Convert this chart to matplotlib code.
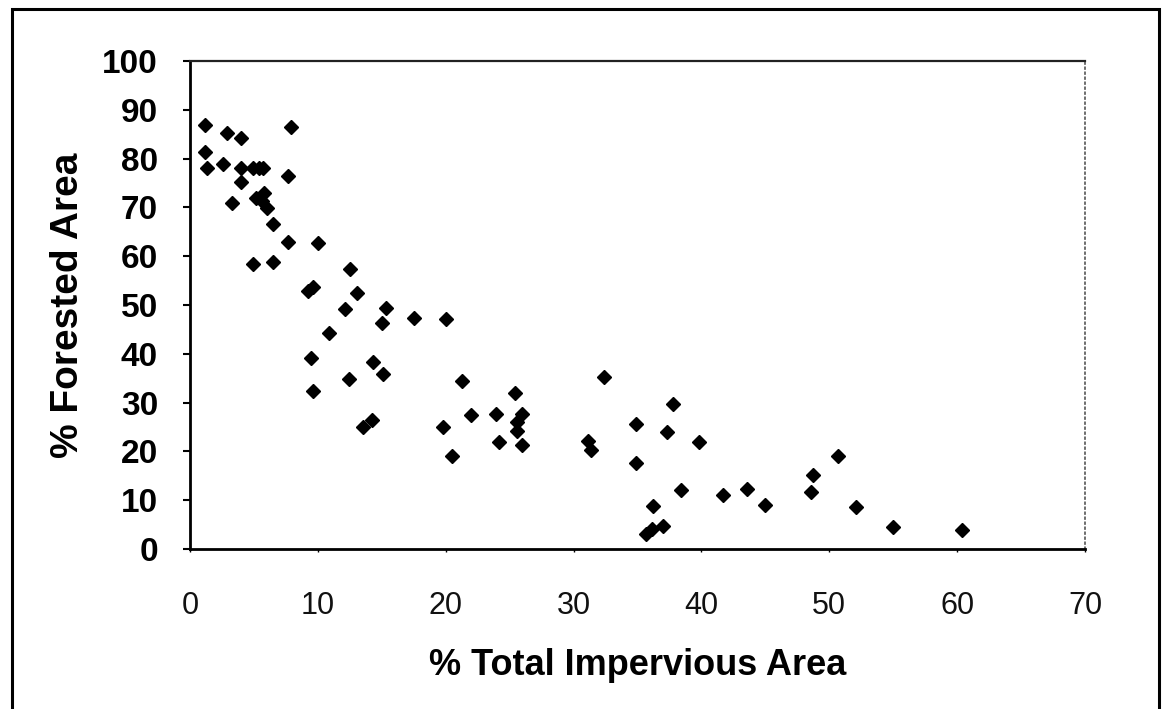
import matplotlib.pyplot as plt
from matplotlib.patches import Rectangle

# % total impervious area vs % forested area
impervious = [1.2, 1.2, 1.3, 2.6, 2.9, 4.0, 4.0, 4.9, 5.4, 5.7, 4.0, 3.3,
              5.8, 5.2, 5.6, 6.0, 6.5, 7.9, 7.7, 7.7, 10.0, 4.9, 6.5, 12.5,
              9.2, 9.6, 13.1, 12.1, 15.3, 15.0, 17.5, 20.0, 10.9, 9.5, 14.3,
              15.1, 12.4, 9.6, 21.3, 25.4, 22.0, 23.9, 26.0, 25.6, 25.6, 13.5,
              14.2, 19.8, 24.2, 26.0, 20.5, 32.4, 37.8, 34.9, 37.3, 39.8,
              31.1, 31.4, 34.9, 38.4, 41.7, 43.6, 45.0, 36.2, 35.7, 36.1,
              37.0, 50.7, 48.7, 48.6, 52.1, 55.0, 60.4]
forested = [86.8, 81.3, 78.0, 78.8, 85.2, 84.2, 78.0, 78.0, 78.0, 78.0, 75.1,
            70.8, 73.0, 72.0, 71.4, 69.8, 66.5, 86.4, 76.5, 63.0, 62.8, 58.4,
            58.8, 57.4, 52.9, 53.7, 52.5, 49.2, 49.4, 46.3, 47.3, 47.1, 44.2,
            39.1, 38.3, 35.8, 34.8, 32.3, 34.4, 31.9, 27.4, 27.6, 27.6, 26.1,
            24.1, 24.9, 26.5, 24.9, 22.0, 21.4, 19.1, 35.2, 29.8, 25.7, 23.9,
            22.0, 22.2, 20.2, 17.7, 12.1, 11.1, 12.3, 9.1, 8.8, 3.1, 4.1, 4.7,
            19.1, 15.2, 11.7, 8.6, 4.5, 3.9]

x_ticks = [0, 10, 20, 30, 40, 50, 60, 70]
y_ticks = [0, 10, 20, 30, 40, 50, 60, 70, 80, 90, 100]

plt.rcParams['font.family'] = ['Liberation Sans', 'DejaVu Sans']

fig = plt.figure(figsize=(11.62, 7.09), dpi=100)
ax = fig.add_axes([0.1635, 0.2257, 0.7702, 0.6883])

ax.plot(impervious, forested, linestyle='none', marker='D', markersize=7.3,
        color='black')

ax.set_xlim(0, 70)
ax.set_ylim(0, 100)
ax.set_xticks(x_ticks)
ax.set_yticks(y_ticks)
ax.tick_params(axis='y', direction='out', length=5, width=1.5, pad=18,
               labelsize=24)
ax.tick_params(axis='x', direction='out', length=2, width=1, pad=28,
               labelsize=22, labelcolor='#111111')
for lbl in ax.get_yticklabels():
    lbl.set_fontweight('bold')

for side in ['left', 'bottom']:
    ax.spines[side].set_linewidth(2)
    ax.spines[side].set_color('black')
ax.spines['top'].set_linewidth(1.6)
ax.spines['top'].set_color('#222222')
ax.spines['right'].set_linewidth(1.2)
ax.spines['right'].set_color('#555555')
ax.spines['right'].set_linestyle((0, (1, 2)))

ax.set_xlabel('% Total Impervious Area', fontsize=26, fontweight='bold',
              labelpad=20)
ax.set_ylabel('% Forested Area', fontsize=28, fontweight='bold', labelpad=12)

# outer frame of the scanned figure, open at the bottom
fig.add_artist(Rectangle((0.0103, -0.05), 0.987, 1.037,
                         transform=fig.transFigure, fill=False,
                         linewidth=2.2, edgecolor='black'))

fig.savefig('out.png', dpi=100)
